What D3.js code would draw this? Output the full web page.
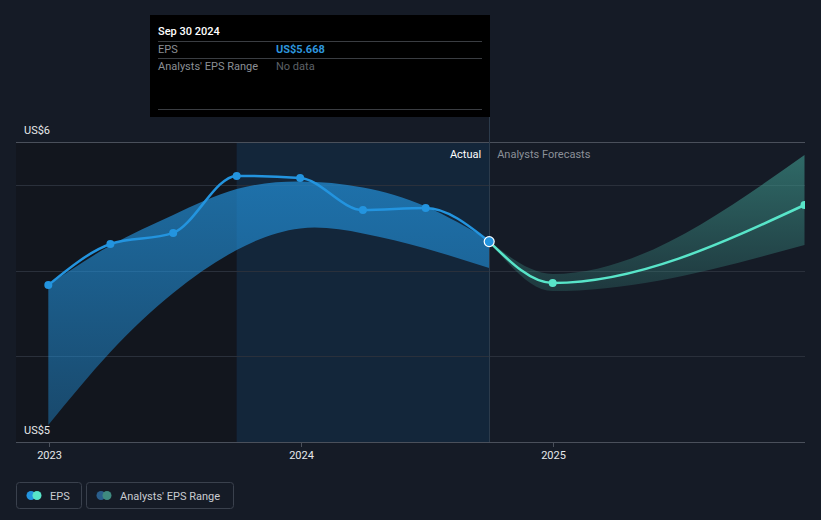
<!DOCTYPE html>
<html><head><meta charset="utf-8">
<script src="https://cdn.jsdelivr.net/npm/d3@7"></script>
<style>
html,body{margin:0;padding:0;background:#151b26;}
svg{display:block;font-family:Roboto, "Open Sans", sans-serif;}
</style></head>
<body><svg id="c" width="821" height="520"></svg>
<script>
// ---- data ----
const actualDates = ["2022-12-31","2023-03-31","2023-06-30","2023-09-30","2023-12-31","2024-03-31","2024-06-30","2024-09-30"];
const actualEPS = [5.523, 5.66, 5.697, 5.887, 5.88, 5.773, 5.78, 5.668];
const pastRangeHigh = [5.523, 5.655, 5.757, 5.843, 5.868, 5.848, 5.785, 5.673];
const pastRangeLow  = [5.057, 5.3, 5.497, 5.64, 5.712, 5.695, 5.645, 5.58];
const forecastDates = ["2024-09-30","2024-12-31","2025-12-31"];
const forecastEPS = [5.668, 5.53, 5.79];
const forecastHigh = [5.668, 5.56, 5.957];
const forecastLow  = [5.668, 5.503, 5.657];
const gridValues = [5, 5.2857, 5.5714, 5.8571, 6];
const yLabels = [{v:6, t:"US$6"}, {v:5, t:"US$5"}];
const xTicks = ["2023-01-01","2024-01-01","2025-01-01"];
const xTickLabels = ["2023","2024","2025"];
const highlightStart = "2023-09-30";
const todayDate = "2024-09-30";

const parse = d3.utcParse("%Y-%m-%d");
const svg = d3.select("#c");
const x = d3.scaleUtc().domain([parse("2023-01-01"), parse("2025-12-31")]).range([49, 804.5]);
const y = d3.scaleLinear().domain([5, 6]).range([442, 142]);
const L = 16, R = 805;

// background regions
svg.append("rect").attr("x", L).attr("y", y(6)).attr("width", x(parse(highlightStart)) - L).attr("height", y(5) - y(6)).attr("fill", "#12161e");
svg.append("rect").attr("x", x(parse(highlightStart))).attr("y", y(6)).attr("width", x(parse(todayDate)) - x(parse(highlightStart))).attr("height", y(5) - y(6)).attr("fill", "#13263a");

// gridlines
svg.append("g").selectAll("line").data(gridValues).join("line")
  .attr("x1", L).attr("x2", R).attr("y1", d => Math.round(y(d)) + 0.5).attr("y2", d => Math.round(y(d)) + 0.5)
  .attr("stroke", d => (d === 6 ? "#4a505b" : "#2a303b")).attr("stroke-width", 1);

const defs = svg.append("defs");
defs.append("clipPath").attr("id", "clip").append("rect").attr("x", L).attr("y", 0).attr("width", R - L).attr("height", 442);
const g1 = defs.append("linearGradient").attr("id", "gBlue").attr("gradientUnits", "userSpaceOnUse")
  .attr("x1", 0).attr("x2", 0).attr("y1", 180).attr("y2", 430);
g1.append("stop").attr("offset", "0%").attr("stop-color", "#2394df").attr("stop-opacity", 0.68);
g1.append("stop").attr("offset", "100%").attr("stop-color", "#2394df").attr("stop-opacity", 0.4);
const g2 = defs.append("linearGradient").attr("id", "gTeal").attr("gradientUnits", "userSpaceOnUse")
  .attr("x1", 0).attr("x2", 0).attr("y1", 155).attr("y2", 295);
g2.append("stop").attr("offset", "0%").attr("stop-color", "#3f9a8f").attr("stop-opacity", 0.62);
g2.append("stop").attr("offset", "100%").attr("stop-color", "#3f9a8f").attr("stop-opacity", 0.22);

const plot = svg.append("g").attr("clip-path", "url(#clip)");

// past band
const past = actualDates.map((d, i) => ({d: parse(d), hi: pastRangeHigh[i], lo: pastRangeLow[i], v: actualEPS[i]}));
plot.append("path").datum(past)
  .attr("d", d3.area().curve(d3.curveNatural).x(d => x(d.d)).y0(d => y(d.lo)).y1(d => y(d.hi)))
  .attr("fill", "url(#gBlue)");

// forecast band
const fc = forecastDates.map((d, i) => ({d: parse(d), hi: forecastHigh[i], lo: forecastLow[i], v: forecastEPS[i]}));
plot.append("path").datum(fc)
  .attr("d", d3.area().curve(d3.curveMonotoneX).x(d => x(d.d)).y0(d => y(d.lo)).y1(d => y(d.hi)))
  .attr("fill", "url(#gTeal)");

// today line
svg.append("line").attr("x1", Math.round(x(parse(todayDate))) + 0.5).attr("x2", Math.round(x(parse(todayDate))) + 0.5)
  .attr("y1", 117).attr("y2", 442).attr("stroke", "#2c3b4b").attr("stroke-width", 1);

// lines
plot.append("path").datum(past)
  .attr("d", d3.line().curve(d3.curveMonotoneX).x(d => x(d.d)).y(d => y(d.v)))
  .attr("fill", "none").attr("stroke", "#2394df").attr("stroke-width", 2.5);
plot.append("path").datum(fc)
  .attr("d", d3.line().curve(d3.curveMonotoneX).x(d => x(d.d)).y(d => y(d.v)))
  .attr("fill", "none").attr("stroke", "#58e5c9").attr("stroke-width", 2.5);

// points
plot.append("g").selectAll("circle").data(past.slice(0, -1)).join("circle")
  .attr("cx", d => x(d.d)).attr("cy", d => y(d.v)).attr("r", 4).attr("fill", "#2394df");
plot.append("g").selectAll("circle").data(fc.slice(1)).join("circle")
  .attr("cx", d => x(d.d)).attr("cy", d => y(d.v)).attr("r", 4).attr("fill", "#58e5c9");
const last = past[past.length - 1];
svg.append("circle").attr("cx", x(last.d)).attr("cy", y(last.v)).attr("r", 5)
  .attr("fill", "#2394df").attr("stroke", "#ffffff").attr("stroke-width", 1.2);

// x axis
svg.append("line").attr("x1", L).attr("x2", R).attr("y1", 442.5).attr("y2", 442.5).attr("stroke", "#4a505b");
const xa = svg.append("g");
xTicks.forEach((t, i) => {
  const px = Math.round(x(parse(t))) + 0.5;
  xa.append("line").attr("x1", px).attr("x2", px).attr("y1", 443).attr("y2", 447).attr("stroke", "#4a505b");
  xa.append("text").attr("x", px).attr("y", 459).attr("text-anchor", "middle")
    .attr("fill", "#e6e8ea").attr("font-size", 11).text(xTickLabels[i]);
});

// y labels
svg.append("g").selectAll("text").data(yLabels).join("text")
  .attr("x", 24).attr("y", d => y(d.v) - 8).attr("fill", "#e6e8ea").attr("font-size", 11).text(d => d.t);

// Actual / forecast labels
svg.append("text").attr("x", x(parse(todayDate)) - 8).attr("y", 158).attr("text-anchor", "end")
  .attr("fill", "#ffffff").attr("font-size", 11).text("Actual");
svg.append("text").attr("x", x(parse(todayDate)) + 8).attr("y", 158)
  .attr("fill", "#8b9098").attr("font-size", 11).text("Analysts Forecasts");

// tooltip
const tt = svg.append("g");
tt.append("rect").attr("x", 150).attr("y", 15).attr("width", 340).attr("height", 102).attr("fill", "#000000");
tt.append("text").attr("x", 158).attr("y", 35).attr("fill", "#ffffff").attr("font-size", 11).attr("font-weight", 500).text("Sep 30 2024");
[41.5, 58.5, 109.5].forEach(yy => tt.append("line").attr("x1", 158).attr("x2", 482).attr("y1", yy).attr("y2", yy).attr("stroke", "#3a3d42"));
tt.append("text").attr("x", 158).attr("y", 53).attr("fill", "#8b8f95").attr("font-size", 11).text("EPS");
tt.append("text").attr("x", 276).attr("y", 53).attr("fill", "#2d95dd").attr("font-size", 11).attr("font-weight", 700).text("US$" + actualEPS[actualEPS.length - 1].toFixed(3));
tt.append("text").attr("x", 158).attr("y", 70).attr("fill", "#8b8f95").attr("font-size", 11).text("Analysts' EPS Range");
tt.append("text").attr("x", 276).attr("y", 70).attr("fill", "#5d6167").attr("font-size", 11).text("No data");

// legend
const lg = svg.append("g");
function legendItem(x0, w, c1, c2, label) {
  lg.append("rect").attr("x", x0 + 0.5).attr("y", 482.5).attr("width", w).attr("height", 26).attr("rx", 3)
    .attr("fill", "none").attr("stroke", "#3a414d");
  lg.append("circle").attr("cx", x0 + 15).attr("cy", 495.5).attr("r", 4.5).attr("fill", c1);
  lg.append("circle").attr("cx", x0 + 21).attr("cy", 495.5).attr("r", 4.5).attr("fill", c2);
  lg.append("text").attr("x", x0 + 34).attr("y", 499.5).attr("fill", "#c9ccd1").attr("font-size", 11).text(label);
}
legendItem(16, 65, "#2394df", "#58e5c9", "EPS");
legendItem(86, 147, "#2a5e8c", "#3f8a80", "Analysts' EPS Range");
</script></body></html>
